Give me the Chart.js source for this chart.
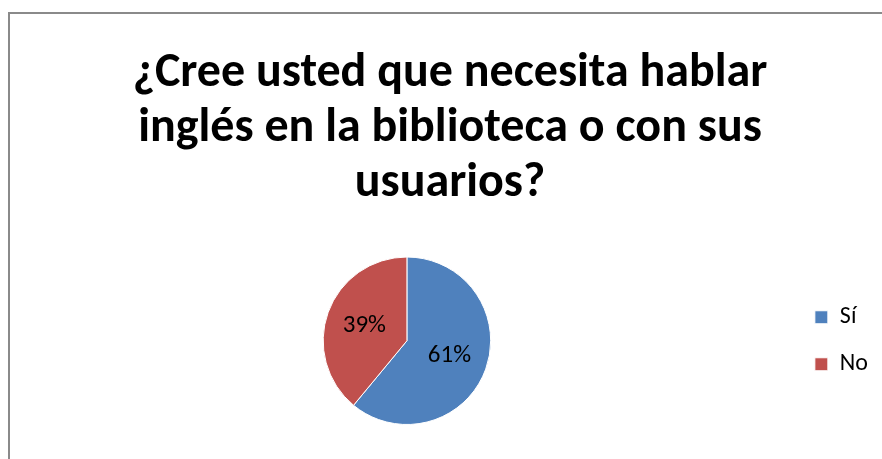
<!DOCTYPE html>
<html>
<head>
<meta charset="utf-8">
<script src="https://cdn.jsdelivr.net/npm/chart.js@4.4.1/dist/chart.umd.min.js"></script>
<style>
  html, body { margin: 0; padding: 0; background: #fff; overflow: hidden; }
  #wrap { position: relative; width: 882px; height: 459px; }
  #frame { position: absolute; left: 8px; top: 12px; width: 900px; height: 500px; border: 2px solid #8a8a8a; box-sizing: border-box; }
  canvas { position: absolute; left: 0; top: 0; }
</style>
</head>
<body>
<div id="wrap">
  <div id="frame"></div>
  <canvas id="c" width="882" height="459"></canvas>
</div>
<script>
const titleLines = ['¿Cree usted que necesita hablar', 'inglés en la biblioteca o con sus', 'usuarios?'];
const categories = ['Sí', 'No'];
const values = [61, 39];
const colors = ['#4F81BD', '#C0504D'];

const FONT = 'Carlito, Lato, "Liberation Sans", sans-serif';

const pieLabels = {
  id: 'pieLabels',
  afterDatasetsDraw(chart) {
    const ctx = chart.ctx;
    const meta = chart.getDatasetMeta(0);
    const data = chart.data.datasets[0].data;
    const total = data.reduce((a, b) => a + b, 0);
    ctx.save();
    ctx.font = '25px ' + FONT;
    ctx.fillStyle = '#000';
    ctx.textAlign = 'center';
    ctx.textBaseline = 'middle';
    meta.data.forEach((arc, i) => {
      const p = arc.getProps(['x', 'y', 'startAngle', 'endAngle', 'outerRadius'], true);
      const mid = (p.startAngle + p.endAngle) / 2;
      const r = p.outerRadius * 0.54;
      const pct = Math.round(data[i] / total * 100) + '%';
      ctx.fillText(pct, p.x + Math.cos(mid) * r, p.y + Math.sin(mid) * r);
    });
    ctx.restore();
  }
};

new Chart(document.getElementById('c'), {
  type: 'pie',
  data: {
    labels: categories,
    datasets: [{
      data: values,
      backgroundColor: colors,
      borderColor: '#ffffff',
      borderWidth: 1
    }]
  },
  options: {
    responsive: false,
    animation: false,
    layout: { padding: { left: 22, right: 4, top: 0, bottom: 34 } },
    plugins: {
      title: {
        display: true,
        text: titleLines,
        color: '#000',
        font: { family: FONT, size: 48, weight: 'bold', lineHeight: '55px' },
        padding: { top: 46, bottom: 45.5 }
      },
      legend: {
        position: 'right',
        fullSize: false,
        labels: {
          boxWidth: 13,
          boxHeight: 13,
          padding: 23,
          color: '#000',
          font: { family: FONT, size: 24 }
        }
      },
      tooltip: { enabled: false }
    }
  },
  plugins: [pieLabels]
});
</script>
</body>
</html>
